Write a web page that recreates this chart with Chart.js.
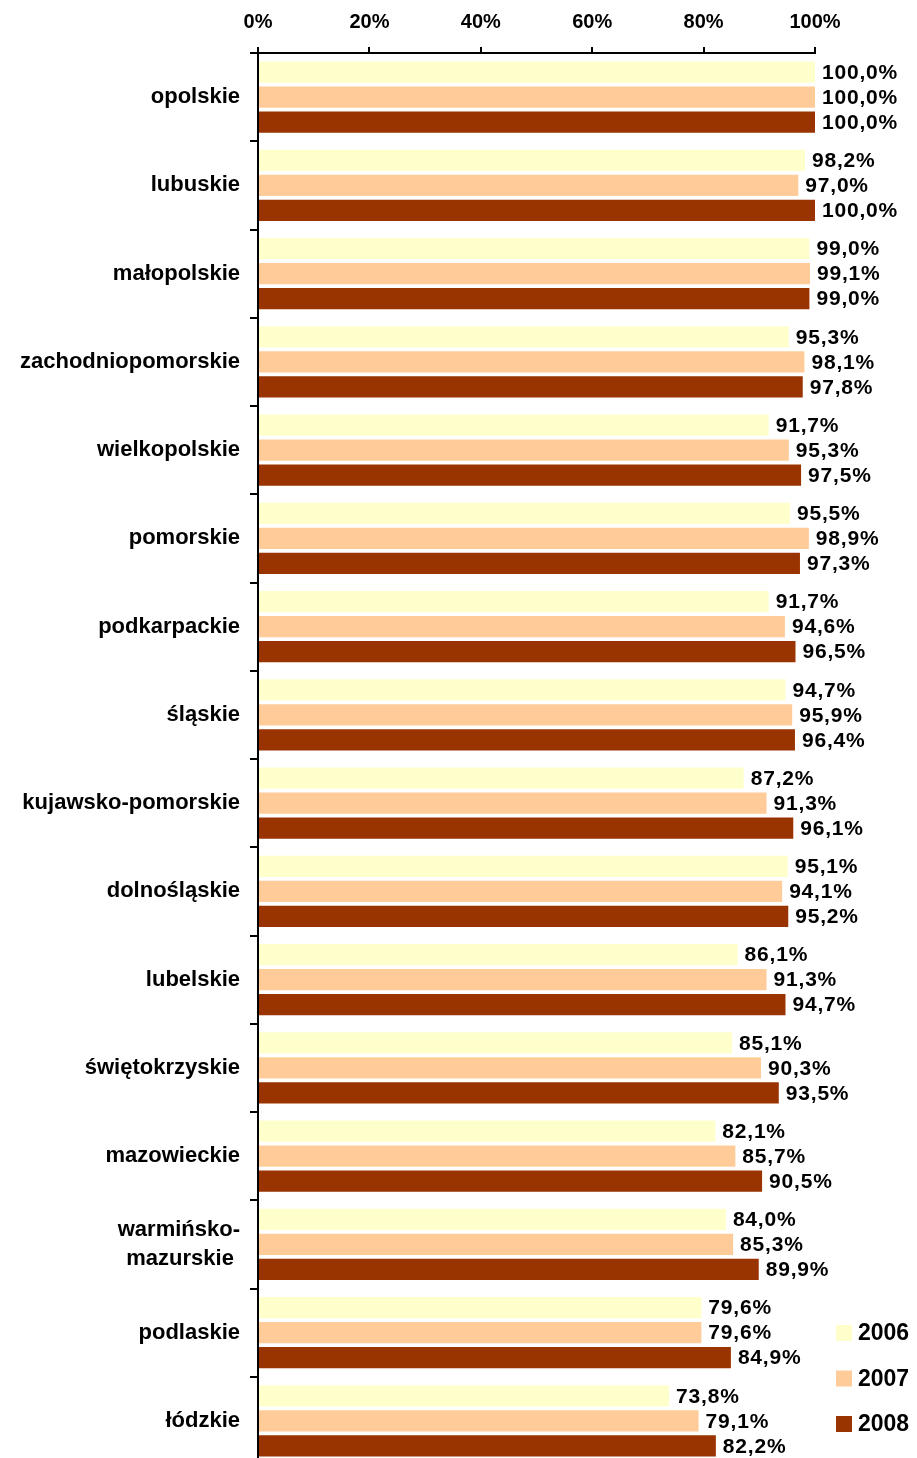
<!DOCTYPE html>
<html>
<head>
<meta charset="utf-8">
<script src="https://cdn.jsdelivr.net/npm/chart.js@4/dist/chart.umd.min.js"></script>
<style>
html,body{margin:0;padding:0;background:#fff;overflow:hidden;}
canvas{display:block;}
</style>
</head>
<body>
<canvas id="c" width="917" height="1465"></canvas>
<script>
const categories = [
  'opolskie','lubuskie','małopolskie','zachodniopomorskie','wielkopolskie','pomorskie',
  'podkarpackie','śląskie','kujawsko-pomorskie','dolnośląskie','lubelskie','świętokrzyskie',
  'mazowieckie',['warmińsko-','mazurskie '],'podlaskie','łódzkie'
];
const seriesNames = ['2006','2007','2008'];
const values2006 = [100.0,98.2,99.0,95.3,91.7,95.5,91.7,94.7,87.2,95.1,86.1,85.1,82.1,84.0,79.6,73.8];
const values2007 = [100.0,97.0,99.1,98.1,95.3,98.9,94.6,95.9,91.3,94.1,91.3,90.3,85.7,85.3,79.6,79.1];
const values2008 = [100.0,100.0,99.0,97.8,97.5,97.3,96.5,96.4,96.1,95.2,94.7,93.5,90.5,89.9,84.9,82.2];
const tickValues = [0,20,40,60,80,100];
const colors = ['#FFFFCC','#FFCC99','#993300'];

const FONT = "'Liberation Sans', Arial, Helvetica, sans-serif";

const labelsPlugin = {
  id: 'valueLabels',
  afterDatasetsDraw(chart){
    const ctx = chart.ctx;
    ctx.save();
    ctx.letterSpacing = '0.8px';
    ctx.font = 'bold 21px ' + FONT;
    ctx.fillStyle = '#000';
    ctx.textAlign = 'left';
    ctx.textBaseline = 'middle';
    chart.data.datasets.forEach((ds, di) => {
      const meta = chart.getDatasetMeta(di);
      meta.data.forEach((bar, i) => {
        const txt = ds.data[i].toFixed(1).replace('.', ',') + '%';
        ctx.fillText(txt, bar.x + 7, bar.y + 1);
      });
    });
    ctx.restore();
  }
};

const legendPlugin = {
  id: 'customLegend',
  afterDraw(chart){
    const ctx = chart.ctx;
    ctx.save();
    ctx.font = 'bold 23px ' + FONT;
    ctx.textAlign = 'left';
    ctx.textBaseline = 'middle';
    const x0 = 836, y0 = 1325, step = 45.5;
    chart.data.datasets.forEach((ds, di) => {
      const y = y0 + di * step;
      ctx.fillStyle = ds.backgroundColor;
      ctx.fillRect(x0, y, 16, 16);
      ctx.fillStyle = '#000';
      ctx.fillText(ds.label, x0 + 22, y + 9);
    });
    ctx.restore();
  }
};

new Chart(document.getElementById('c'), {
  type: 'bar',
  data: {
    labels: categories,
    datasets: [
      {label: seriesNames[0], data: values2006, backgroundColor: colors[0]},
      {label: seriesNames[1], data: values2007, backgroundColor: colors[1]},
      {label: seriesNames[2], data: values2008, backgroundColor: colors[2]}
    ]
  },
  options: {
    indexAxis: 'y',
    responsive: false,
    maintainAspectRatio: false,
    animation: false,
    devicePixelRatio: 1,
    layout: {padding: {top: 0, right: 102, bottom: 0, left: 0}},
    categoryPercentage: 0.85,
    barPercentage: 0.85,
    plugins: {legend: {display: false}, tooltip: {enabled: false}},
    scales: {
      x: {
        position: 'top',
        min: 0, max: 100,
        afterBuildTicks(scale){ scale.ticks = tickValues.map(v => ({value: v})); },
        afterFit(scale){ scale.height = 53; scale.paddingLeft = 0; scale.paddingRight = 0; },
        ticks: {
          callback: v => v + '%',
          color: '#000',
          font: {family: FONT, size: 20, weight: 'bold'},
          padding: 13,
          maxRotation: 0
        },
        grid: {drawOnChartArea: false, drawTicks: true, tickLength: 6, color: '#000', lineWidth: 2},
        border: {display: true, color: '#000', width: 2}
      },
      y: {
        afterFit(scale){ scale.width = 258; scale.paddingTop = 0; scale.paddingBottom = 0; },
        ticks: {
          color: '#000',
          font: {family: FONT, size: 22, weight: 'bold', lineHeight: 1.3},
          padding: 10,
          autoSkip: false
        },
        grid: {offset: true, drawOnChartArea: false, drawTicks: true, tickLength: 8, color: '#000', lineWidth: 2},
        border: {display: true, color: '#000', width: 2}
      }
    }
  },
  plugins: [labelsPlugin, legendPlugin]
});
</script>
</body>
</html>
